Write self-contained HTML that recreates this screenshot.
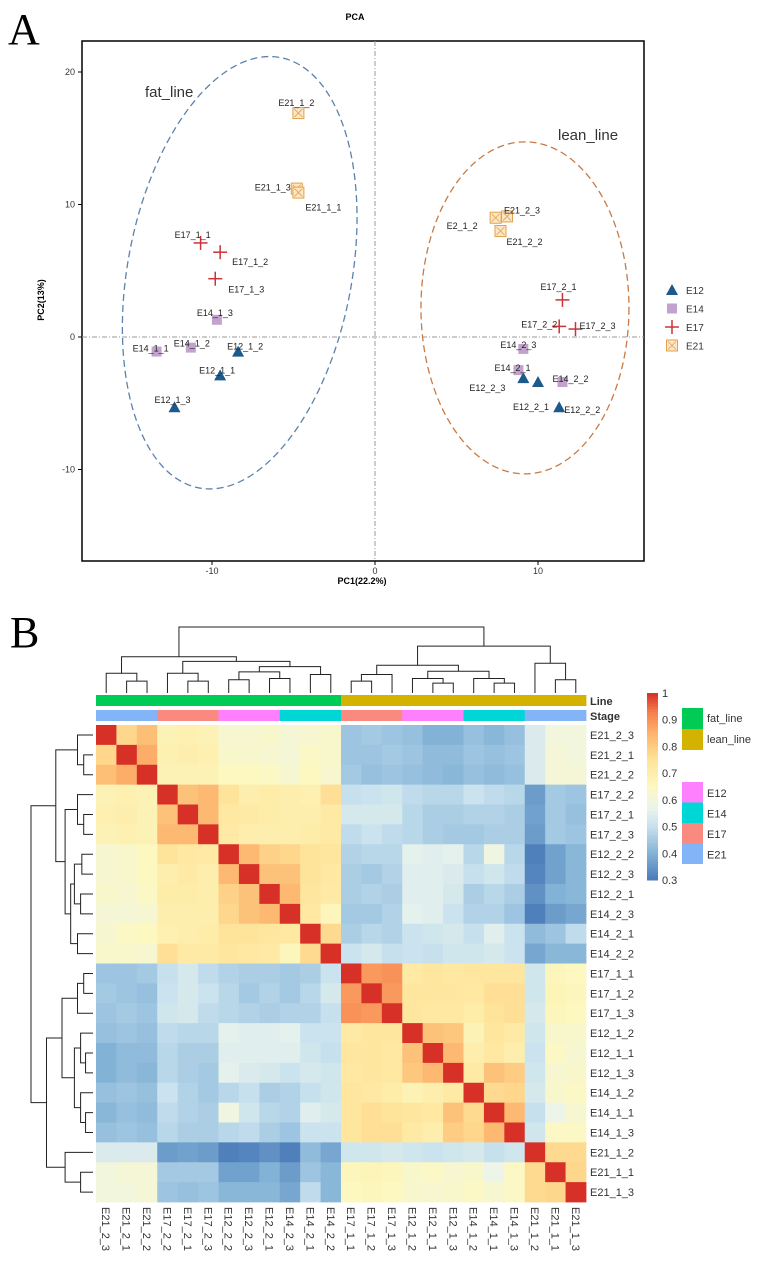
<!DOCTYPE html>
<html><head><meta charset="utf-8">
<style>
html,body{margin:0;padding:0;background:#fff;}
svg{display:block;font-family:"Liberation Sans",Arial,sans-serif;}
</style></head>
<body>
<svg id="fig" width="770" height="1261" viewBox="0 0 770 1261" xmlns="http://www.w3.org/2000/svg">
<text x="8" y="44" font-family="Liberation Serif,serif" font-size="44">A</text>
<text x="10" y="647" font-family="Liberation Serif,serif" font-size="44">B</text>
<g id="pca"></g>
<g id="hm"></g>
</svg>
<script>
// ---------- PCA data ----------
const pcaNames = ["E21_1_2","E21_1_3","E21_1_1","E17_1_1","E17_1_2","E17_1_3","E14_1_3","E14_1_1","E14_1_2","E12_1_2","E12_1_1","E12_1_3",
 "E2_1_2","E21_2_3","E21_2_2","E17_2_1","E17_2_2","E17_2_3","E14_2_3","E14_2_1","E14_2_2","E12_2_3","E12_2_1","E12_2_2"];
const pcaGroup = ["E21","E21","E21","E17","E17","E17","E14","E14","E14","E12","E12","E12",
 "E21","E21","E21","E17","E17","E17","E14","E14","E14","E12","E12","E12"];
const pc1 = [-4.7,-4.8,-4.7,-10.7,-9.5,-9.8,-9.7,-13.4,-11.3,-8.4,-9.5,-12.3, 7.4,8.1,7.7,11.5,11.3,12.3,9.1,8.8,11.5,9.1,10.0,11.3];
const pc2 = [16.9,11.2,10.9,7.1,6.4,4.4,1.3,-1.1,-0.8,-1.1,-2.9,-5.3, 9.0,9.1,8.0,2.8,0.8,0.6,-0.9,-2.5,-3.4,-3.1,-3.4,-5.3];
const labOff = [[-20,-10],[-42,-1],[7,15],[-26,-8],[12,10],[13,11],[-20,-7],[-24,-3],[-17,-4],[-11,-5],[-21,-5],[-20,-7],
 [-49,8],[-3,-6],[6,11],[-22,-13],[-38,-2],[4,-3],[-23,-4],[-24,-2],[-10,-3],[-54,10],[-25,25],[5,3]];
const xTicks = [-10,0,10];
const yTicks = [-10,0,10,20];
const legendGroups = ["E12","E14","E17","E21"];

// ---------- Heatmap data ----------
const hmLabels = ["E21_2_3","E21_2_1","E21_2_2","E17_2_2","E17_2_1","E17_2_3","E12_2_2","E12_2_3","E12_2_1","E14_2_3","E14_2_1","E14_2_2",
 "E17_1_1","E17_1_2","E17_1_3","E12_1_2","E12_1_1","E12_1_3","E14_1_2","E14_1_1","E14_1_3","E21_1_2","E21_1_1","E21_1_3"];
const hmStage = ["E21","E21","E21","E17","E17","E17","E12","E12","E12","E14","E14","E14","E17","E17","E17","E12","E12","E12","E14","E14","E14","E21","E21","E21"];
const hmLine = ["fat_line","fat_line","fat_line","fat_line","fat_line","fat_line","fat_line","fat_line","fat_line","fat_line","fat_line","fat_line",
 "lean_line","lean_line","lean_line","lean_line","lean_line","lean_line","lean_line","lean_line","lean_line","lean_line","lean_line","lean_line"];
const corr = [
[1,.78,.83,.68,.69,.68,.62,.62,.63,.61,.62,.63,.44,.45,.44,.43,.40,.40,.43,.41,.43,.54,.60,.60],
[.78,1,.86,.69,.70,.69,.63,.63,.62,.61,.64,.63,.44,.44,.45,.44,.42,.42,.44,.43,.44,.54,.61,.60],
[.83,.86,1,.68,.68,.68,.65,.65,.64,.62,.65,.62,.45,.43,.44,.43,.42,.41,.43,.42,.43,.54,.61,.61],
[.68,.69,.68,1,.82,.84,.75,.70,.71,.70,.69,.76,.50,.51,.52,.49,.48,.48,.51,.49,.48,.36,.45,.44],
[.69,.70,.68,.82,1,.84,.73,.72,.71,.70,.70,.72,.53,.53,.53,.48,.46,.46,.47,.47,.46,.37,.45,.43],
[.68,.69,.68,.84,.84,1,.72,.70,.70,.70,.71,.72,.49,.51,.49,.48,.46,.45,.45,.46,.46,.36,.45,.44],
[.62,.63,.65,.75,.73,.72,1,.84,.79,.78,.75,.74,.47,.48,.48,.56,.55,.56,.48,.59,.48,.31,.37,.41],
[.62,.63,.65,.70,.72,.70,.84,1,.82,.82,.75,.73,.46,.45,.47,.55,.55,.54,.50,.52,.49,.32,.37,.41],
[.63,.62,.64,.71,.71,.70,.79,.82,1,.84,.74,.72,.46,.47,.46,.55,.55,.53,.46,.48,.46,.34,.40,.41],
[.61,.61,.62,.70,.70,.70,.78,.82,.84,1,.73,.66,.45,.45,.47,.56,.55,.51,.47,.47,.44,.31,.36,.38],
[.62,.64,.65,.69,.70,.71,.75,.75,.74,.73,1,.77,.46,.48,.47,.51,.52,.53,.50,.55,.51,.42,.44,.49],
[.63,.63,.62,.76,.72,.72,.74,.73,.72,.66,.77,1,.51,.53,.50,.51,.50,.52,.52,.53,.51,.38,.41,.41],
[.44,.44,.45,.50,.53,.49,.47,.46,.46,.45,.46,.51,1,.89,.90,.72,.74,.73,.74,.74,.74,.52,.66,.65],
[.45,.44,.43,.51,.53,.51,.48,.45,.47,.45,.48,.53,.89,1,.89,.74,.74,.74,.73,.76,.76,.52,.67,.66],
[.44,.45,.44,.52,.53,.49,.48,.47,.46,.47,.47,.50,.90,.89,1,.74,.73,.73,.71,.75,.76,.53,.66,.65],
[.43,.44,.43,.49,.48,.48,.56,.55,.55,.56,.51,.51,.72,.74,.74,1,.82,.81,.68,.74,.72,.52,.63,.63],
[.40,.42,.42,.48,.46,.46,.55,.55,.55,.55,.52,.50,.74,.74,.73,.82,1,.84,.70,.73,.70,.51,.64,.62],
[.40,.42,.41,.48,.46,.45,.56,.54,.53,.51,.53,.52,.73,.74,.73,.81,.84,1,.72,.82,.80,.52,.62,.63],
[.43,.44,.43,.51,.47,.45,.48,.50,.46,.47,.50,.52,.74,.73,.71,.68,.70,.72,1,.77,.78,.53,.63,.64],
[.41,.43,.42,.49,.47,.46,.59,.52,.48,.47,.55,.53,.74,.76,.75,.74,.73,.82,.77,1,.84,.50,.58,.62],
[.43,.44,.43,.48,.46,.46,.48,.49,.46,.44,.51,.51,.74,.76,.76,.72,.70,.80,.78,.84,1,.52,.64,.64],
[.54,.54,.54,.36,.37,.36,.31,.32,.34,.31,.42,.38,.52,.52,.53,.52,.51,.52,.53,.50,.52,1,.77,.77],
[.60,.61,.61,.45,.45,.45,.37,.37,.40,.36,.44,.41,.66,.67,.66,.63,.64,.62,.63,.58,.64,.77,1,.78],
[.60,.60,.61,.44,.43,.44,.41,.41,.41,.38,.49,.41,.65,.66,.65,.63,.62,.63,.64,.62,.64,.77,.78,1]];
const cbTicks = [0.3,0.4,0.5,0.6,0.7,0.8,0.9,1];
// dendrogram merges: [left,right,height], leaves are indices
const colTree = [[[0,[1,2,.18],.3],[[3,[4,5,.18],.3],[[[6,7,.2],[8,9,.22],.32],[10,11,.28],.4],.48],.55],
 [[[[12,13,.18],14,.28],[[[15,[16,17,.15],.22],[18,[19,20,.15],.22],.33],.0,0],.42],[21,[22,23,.2],.45],.71],1];
const rowTree = [[[0,[1,2,.15],.25],[[3,[4,5,.15],.25],[[[6,7,.18],[8,9,.2],.3],[10,11,.25],.36],.45],.6],
 [[[[12,13,.15],14,.25],[[[15,[16,17,.12],.2],[18,[19,20,.12],.2],.3],.0,0],.5],[21,[22,23,.2],.45],.75],1];

const NS="http://www.w3.org/2000/svg";
function mk(parent,tag,attrs){const e=document.createElementNS(NS,tag);for(const k in attrs)e.setAttribute(k,attrs[k]);parent.appendChild(e);return e;}

// ================= PCA =================
const pcaG=document.getElementById('pca');
const X0=375,XS=16.3,Y0=337,YS=13.25;
const sx=v=>X0+v*XS, sy=v=>Y0-v*YS;
let t=mk(pcaG,'text',{x:355,y:20,'font-size':9,'font-weight':'bold','text-anchor':'middle'});t.textContent='PCA';


let box=mk(pcaG,'rect',{x:82,y:41,width:562,height:520,fill:'none',stroke:'#000','stroke-width':1.5});


let zl=mk(pcaG,'line',{x1:sx(0),x2:sx(0),y1:41,y2:561,stroke:'#999','stroke-dasharray':'5,2,1,2','stroke-width':1});


let zh=mk(pcaG,'line',{x1:82,x2:644,y1:sy(0),y2:sy(0),stroke:'#999','stroke-dasharray':'5,2,1,2','stroke-width':1});


xTicks.forEach(v=>{const l=mk(pcaG,'line',{x1:sx(v),x2:sx(v),y1:561,y2:565,stroke:'#000'});
 
 
 const tx=mk(pcaG,'text',{x:sx(v),y:574,'font-size':9,'text-anchor':'middle',fill:'#333'});tx.textContent=v;
 
 });
yTicks.forEach(v=>{const l=mk(pcaG,'line',{x1:78,x2:82,y1:sy(v),y2:sy(v),stroke:'#000'});
 
 
 const tx=mk(pcaG,'text',{x:75,y:sy(v)+3,'font-size':9,'text-anchor':'end',fill:'#333'});tx.textContent=v;
 
 });
t=mk(pcaG,'text',{x:362,y:584,'font-size':9,'font-weight':'bold','text-anchor':'middle'});t.textContent='PC1(22.2%)';


t=mk(pcaG,'text',{x:0,y:0,'font-size':9,'font-weight':'bold','text-anchor':'middle',transform:'translate(44,300) rotate(-90)'});t.textContent='PC2(13%)';


// ellipses
let el=mk(pcaG,'ellipse',{cx:sx(-8.3),cy:sy(4.85),rx:112,ry:219,fill:'none',stroke:'#5b82ad','stroke-width':1.3,'stroke-dasharray':'7,4',transform:`rotate(10.7 ${sx(-8.3)} ${sy(4.85)})`});


el=mk(pcaG,'ellipse',{cx:sx(9.2),cy:sy(2.2),rx:104,ry:166,fill:'none',stroke:'#c97a45','stroke-width':1.3,'stroke-dasharray':'7,4'});


t=mk(pcaG,'text',{x:145,y:97,'font-size':15,fill:'#333'});t.textContent='fat_line';


t=mk(pcaG,'text',{x:558,y:140,'font-size':15,fill:'#333'});t.textContent='lean_line';


function marker(g,grp,x,y){
 const m=mk(g,'g',{});
 if(grp==='E12') mk(m,'polygon',{points:`${x},${y-6} ${x-6},${y+5} ${x+6},${y+5}`,fill:'#1d5a8c'});
 else if(grp==='E14') mk(m,'rect',{x:x-5,y:y-5,width:10,height:10,fill:'#c4a2cf'});
 else if(grp==='E17'){mk(m,'line',{x1:x-7,x2:x+7,y1:y,y2:y,stroke:'#c8343a','stroke-width':1.5});mk(m,'line',{x1:x,x2:x,y1:y-7,y2:y+7,stroke:'#c8343a','stroke-width':1.5});}
 else {mk(m,'rect',{x:x-5.5,y:y-5.5,width:11,height:11,fill:'#fbe6c8',stroke:'#e2a24c','stroke-width':1});
  mk(m,'path',{d:`M${x-4} ${y-4}L${x+4} ${y+4}M${x+4} ${y-4}L${x-4} ${y+4}`,stroke:'#e2a24c','stroke-width':0.8});}
 return m;}
pc1.forEach((v,i)=>{const x=sx(v),y=sy(pc2[i]);
 const m=marker(pcaG,pcaGroup[i],x,y);
 
 
 const tx=mk(pcaG,'text',{x:x+labOff[i][0],y:y+labOff[i][1]+3,'font-size':9,fill:'#222'});tx.textContent=pcaNames[i];
 
 });
legendGroups.forEach((g,i)=>{const y=290+i*18.5;const m=marker(pcaG,g,672,y);
 
 
 const tx=mk(pcaG,'text',{x:686,y:y+4,'font-size':10,fill:'#333'});tx.textContent=g;
 
 });

// ================= HEATMAP =================
const hmG=document.getElementById('hm');
const HX=96,HY=725,CW=490/24,CH=477/24;
const stops=[[0.3,[74,122,184]],[0.4,[130,178,214]],[0.5,[198,224,238]],[0.57,[234,244,236]],[0.65,[253,248,192]],[0.75,[254,228,154]],[0.85,[253,180,108]],[0.93,[245,126,78]],[1.0,[215,48,39]]];
function col(v){v=Math.max(0.3,Math.min(1,v));for(let i=1;i<stops.length;i++){if(v<=stops[i][0]){const a=stops[i-1],b=stops[i],f=(v-a[0])/(b[0]-a[0]);const c=a[1].map((q,k)=>Math.round(q+(b[1][k]-q)*f));return `rgb(${c})`;}}return 'rgb(215,48,39)';}
const stageCol={E12:'#ff80ff',E14:'#00d6d6',E17:'#fa8a80',E21:'#84b4f8'};
const lineCol={fat_line:'#00cc55',lean_line:'#d4b300'};
corr.forEach((row,r)=>row.forEach((v,c)=>{
 const rc=mk(hmG,'rect',{x:HX+c*CW,y:HY+r*CH,width:CW+0.4,height:CH+0.4,fill:col(v)});
 
 }));
hmLabels.forEach((n,i)=>{
 const lb=mk(hmG,'rect',{x:HX+i*CW,y:695,width:CW+0.4,height:11,fill:lineCol[hmLine[i]]});
 
 
 const sb=mk(hmG,'rect',{x:HX+i*CW,y:710,width:CW+0.4,height:11,fill:stageCol[hmStage[i]]});
 
 
 const rl=mk(hmG,'text',{x:590,y:HY+(i+0.5)*CH+4,'font-size':11,fill:'#333'});rl.textContent=n;
 
 
 const cx=HX+(i+0.5)*CW;
 const cl=mk(hmG,'text',{x:0,y:0,'font-size':11,fill:'#333',transform:`translate(${cx-4},1207) rotate(90)`});cl.textContent=n;
 
 });
t=mk(hmG,'text',{x:590,y:705,'font-size':11,'font-weight':'bold',fill:'#333'});t.textContent='Line';


t=mk(hmG,'text',{x:590,y:720,'font-size':11,'font-weight':'bold',fill:'#333'});t.textContent='Stage';


// colorbar
const cbTop=693,cbBot=880;
const cbY=v=>cbBot-(v-0.3)/0.7*(cbBot-cbTop);
for(let k=0;k<70;k++){const v=0.3+k*0.01;const r=mk(hmG,'rect',{x:647,y:cbY(v+0.01),width:11,height:(cbBot-cbTop)/70+0.5,fill:col(v+0.005)});
 
 }
cbTicks.forEach(v=>{const tx=mk(hmG,'text',{x:662,y:cbY(v)+4,'font-size':11,fill:'#333'});tx.textContent=v;
 
 });
["fat_line","lean_line"].forEach((n,i)=>{const r=mk(hmG,'rect',{x:682,y:708+i*21,width:21,height:21,fill:lineCol[n]});
 
 
 const tx=mk(hmG,'text',{x:707,y:722+i*21,'font-size':11,fill:'#333'});tx.textContent=n;
 
 });
["E12","E14","E17","E21"].forEach((n,i)=>{const r=mk(hmG,'rect',{x:682,y:782+i*20.5,width:21,height:20.5,fill:stageCol[n]});
 
 
 const tx=mk(hmG,'text',{x:707,y:797+i*20.5,'font-size':11,fill:'#333'});tx.textContent=n;
 
 });
// dendrograms
function drawTree(node,pos,g){
 if(typeof node==='number') return [pos(node),0];
 const a=drawTree(node[0],pos,g);
 if(node[1]===0&&node[2]===0) return a;
 const b=drawTree(node[1],pos,g);const h=node[2];
 g.push([a[0],a[1],b[0],b[1],h]);return [(a[0]+b[0])/2,h];}
const topSegs=[];drawTree(colTree,i=>HX+(i+0.5)*CW,topSegs);
const tg=mk(hmG,'g',{stroke:'#222','stroke-width':1,fill:'none'});


const ty=h=>693-h*66;
topSegs.forEach(s=>mk(tg,'path',{d:`M${s[0]} ${ty(s[1])}V${ty(s[4])}H${s[2]}V${ty(s[3])}`}));
const rowSegs=[];drawTree(rowTree,i=>HY+(i+0.5)*CH,rowSegs);
const rg=mk(hmG,'g',{stroke:'#222','stroke-width':1,fill:'none'});


const rxf=h=>93-h*62;
rowSegs.forEach(s=>mk(rg,'path',{d:`M${rxf(s[1])} ${s[0]}H${rxf(s[4])}V${s[2]}H${rxf(s[3])}`}));
</script>
</body></html>
